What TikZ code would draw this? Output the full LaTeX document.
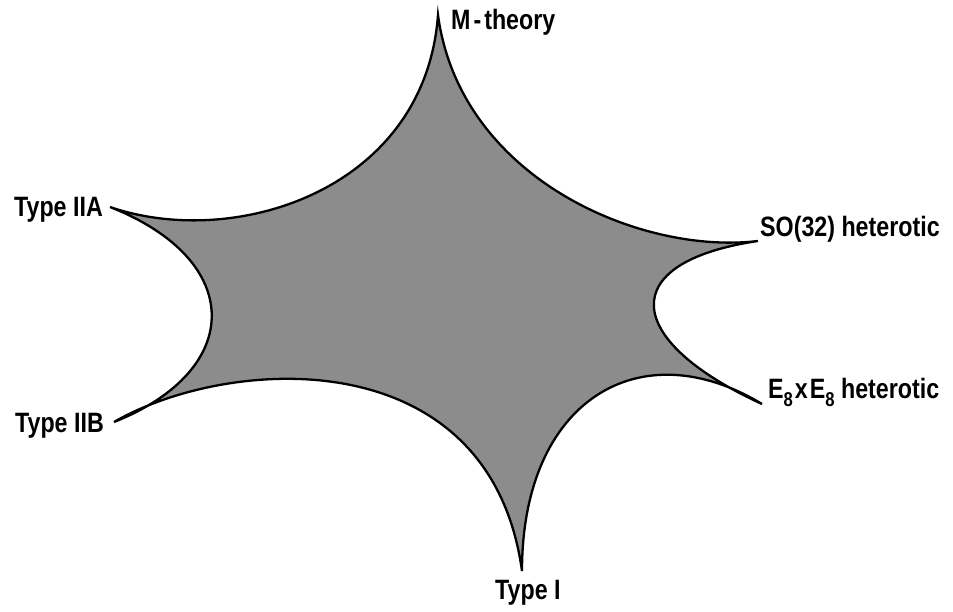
\documentclass[tikz,border=0pt]{standalone}
\usepackage{fontspec}
\newfontfamily\labfont[FakeStretch=0.83]{Liberation Sans}
\definecolor{starfill}{gray}{0.55}
\tikzset{
  lab/.style={font=\labfont\bfseries\fontsize{28}{28}\selectfont, inner sep=0pt, text=black},
  starshape/.style={fill=starfill, draw=black, line width=2.3pt, line join=miter, miter limit=12}
}
\newcommand{\subeight}{\raisebox{-0.3em}{\fontsize{20}{20}\selectfont 8}}
\begin{document}
\begin{tikzpicture}[x=1pt,y=-1pt]
\useasboundingbox (0,0) rectangle (953,611);
\coordinate (M) at (438,15);
\coordinate (IIA) at (110,207);
\coordinate (IIB) at (114,422);
\coordinate (TI) at (522,571);
\coordinate (E8) at (762,404);
\coordinate (SO) at (758,241);
\path[starshape] (M) .. controls (425,190) and (235,250) .. (IIA)
  .. controls (245,260) and (245,370) .. (IIB)
  .. controls (230,355) and (490,340) .. (TI)
  .. controls (522,400) and (640,330) .. (E8)
  .. controls (622,340) and (615,262) .. (SO)
  .. controls (640,255) and (460,178) .. (M) -- cycle;
\node[lab, anchor=base west] (mlab) at (451,29) {M\kern3pt-\kern3pt theory};
\node[lab, anchor=base east] (iialab) at (103,216) {Type IIA};
\node[lab, anchor=base east] (iiblab) at (104,432) {Type IIB};
\node[lab, anchor=base west] (solab) at (760,236) {SO(32) heterotic};
\node[lab, anchor=base west] (e8lab) at (768,398) {E\subeight\kern2pt x\kern2pt E\subeight\ heterotic};
\node[lab, anchor=base west] (tilab) at (495,599) {Type I};
\end{tikzpicture}
\end{document}
